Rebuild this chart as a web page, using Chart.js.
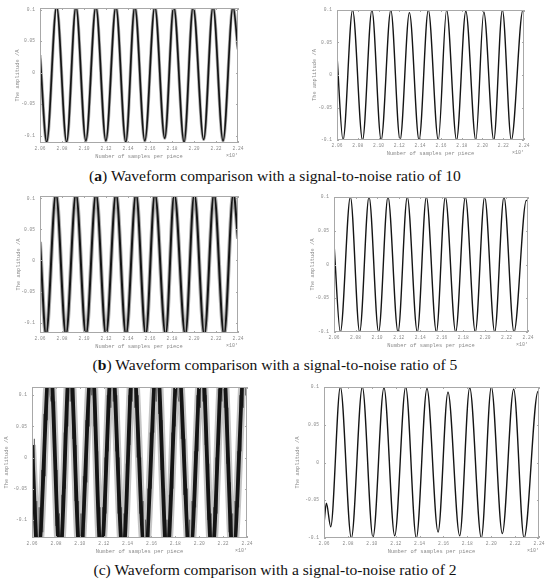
<!DOCTYPE html>
<html>
<head>
<meta charset="utf-8">
<script src="https://cdn.jsdelivr.net/npm/chart.js"></script>
<style>
  body { margin: 0; width: 550px; height: 582px; background: #fff; position: relative; overflow: hidden; }
  canvas { position: absolute; }
  .cap { position: absolute; left: 0; width: 550px; text-align: center; font-family: "Liberation Serif", serif; font-size: 15.6px; line-height: 20px; color: #111; }
</style>
</head>
<body>
<canvas id="aL"></canvas><canvas id="aR"></canvas>
<canvas id="bL"></canvas><canvas id="bR"></canvas>
<canvas id="cL"></canvas><canvas id="cR"></canvas>
<div class="cap" style="top:166px">(<b>a</b>) Waveform comparison with a signal-to-noise ratio of 10</div>
<div class="cap" style="top:355px">(<b>b</b>) Waveform comparison with a signal-to-noise ratio of 5</div>
<div class="cap" style="top:560px">(c) Waveform comparison with a signal-to-noise ratio of 2</div>
<script>
// ===== Axis ticks =====
const xTicks = [20600, 20800, 21000, 21200, 21400, 21600, 21800, 22000, 22200, 22400];
const yTicks = [-0.1, -0.05, 0, 0.05, 0.1];

// ===== SNR 10: noisy (peaks/troughs) and denoised =====
const aNoisyX = [20600, 20661, 20751, 20842, 20927, 21017, 21108, 21199, 21290, 21380, 21462, 21553, 21644, 21734, 21816, 21910, 21992, 22088, 22173, 22264, 22355, 22400];
const aNoisyY = [0.028, -0.11, 0.105, -0.11, 0.105, -0.108, 0.105, -0.108, 0.105, -0.11, 0.105, -0.108, 0.105, -0.104, 0.105, -0.11, 0.105, -0.106, 0.105, -0.108, 0.105, 0.037];
const aCleanX = [20600, 20658, 20750, 20846, 20936, 21025, 21118, 21207, 21297, 21390, 21479, 21575, 21655, 21751, 21840, 21936, 22013, 22109, 22192, 22278, 22390, 22400];
const aCleanY = [0.03, -0.1, 0.1, -0.1, 0.1, -0.1, 0.1, -0.1, 0.096, -0.1, 0.1, -0.1, 0.1, -0.1, 0.098, -0.1, 0.097, -0.1, 0.1, -0.1, 0.1, 0.0995];

// ===== SNR 5 =====
const bNoisyX = [20600, 20655, 20745, 20836, 20927, 21018, 21109, 21200, 21291, 21382, 21473, 21561, 21645, 21742, 21821, 21921, 22003, 22094, 22182, 22273, 22358, 22400];
const bNoisyY = [0.03, -0.12, 0.108, -0.12, 0.108, -0.12, 0.108, -0.12, 0.108, -0.12, 0.108, -0.12, 0.108, -0.12, 0.108, -0.12, 0.108, -0.12, 0.108, -0.12, 0.108, 0.035];
const bCleanX = [20600, 20659, 20752, 20838, 20925, 21014, 21101, 21194, 21280, 21373, 21457, 21550, 21633, 21729, 21819, 21911, 21998, 22091, 22177, 22270, 22385, 22400];
const bCleanY = [0.031, -0.1, 0.1, -0.1, 0.1, -0.1, 0.1, -0.1, 0.1, -0.1, 0.1, -0.1, 0.1, -0.1, 0.1, -0.1, 0.1, -0.1, 0.1, -0.1, 0.095, 0.094];

// ===== SNR 2 =====
const cNoisyX = [20600, 20650, 20751, 20834, 20918, 21002, 21102, 21178, 21270, 21362, 21446, 21546, 21647, 21730, 21822, 21923, 22023, 22107, 22199, 22283, 22383, 22400];
const cNoisyY = [0.02, -0.16, 0.16, -0.16, 0.16, -0.16, 0.16, -0.16, 0.16, -0.16, 0.16, -0.16, 0.16, -0.16, 0.16, -0.16, 0.16, -0.16, 0.16, -0.16, 0.16, 0.15];
// raw noisy trace, one value every 10 samples from 2.06e4
const cRawStart = 20600, cRawStep = 10;
const cRawY = [
  0.08, -0.06, 0.03, -0.16, -0.07, -0.22,
  -0.08, -0.20, -0.02, -0.12, 0.07, -0.03, 0.17, 0.06, 0.22, 0.10,
  0.09, 0.19, 0.01, 0.09, -0.11, -0.02, -0.21, -0.09,
  -0.22, -0.06, -0.16, 0.04, -0.05, 0.15, 0.05, 0.22,
  0.09, 0.21, 0.03, 0.13, -0.07, 0.02, -0.18, -0.07, -0.23,
  -0.09, -0.20, -0.03, -0.13, 0.06, -0.04, 0.16, 0.05, 0.21, 0.10,
  0.22, 0.05, 0.13, -0.07, 0.01, -0.19, -0.08,
  -0.23, -0.08, -0.18, 0.00, -0.09, 0.10, 0.01, 0.19, 0.08, 0.23,
  0.09, 0.19, 0.01, 0.10, -0.09, 0.00, -0.18, -0.08, -0.22,
  -0.09, -0.19, -0.01, -0.09, 0.10, 0.02, 0.20, 0.09,
  0.22, 0.08, 0.18, 0.00, 0.10, -0.09, 0.00, -0.18, -0.07, -0.22,
  -0.10, -0.21, -0.05, -0.14, 0.04, -0.05, 0.13, 0.04, 0.21, 0.09,
  0.22, 0.07, 0.17, -0.02, 0.06, -0.13, -0.05, -0.21, -0.10,
  -0.22, -0.06, -0.15, 0.04, -0.05, 0.14, 0.05, 0.21, 0.10,
  0.09, 0.20, 0.03, 0.13, -0.06, 0.03, -0.15, -0.05, -0.21, -0.10,
  -0.22, -0.07, -0.17, 0.01, -0.08, 0.10, 0.01, 0.19, 0.08, 0.22,
  0.09, 0.20, 0.02, 0.10, -0.10, -0.01, -0.20, -0.09,
  -0.23, -0.08, -0.18, 0.00, -0.09, 0.11, 0.02, 0.20, 0.09,
  0.22, 0.08, 0.18, -0.01, 0.08, -0.12, -0.04, -0.21, -0.09,
  -0.22, -0.07, -0.17, 0.01, -0.08, 0.10, 0.01, 0.19, 0.08, 0.22,
  0.10, 0.19
];
const cCleanX = [20600, 20620, 20656, 20737, 20829, 20921, 21010, 21102, 21192, 21284, 21373, 21462, 21555, 21638, 21736, 21820, 21917, 22001, 22093, 22188, 22275, 22392, 22400];
const cCleanY = [-0.081, -0.054, -0.085, 0.1, -0.1, 0.1, -0.099, 0.099, -0.097, 0.1, -0.1, 0.098, -0.092, 0.093, -0.097, 0.099, -0.1, 0.1, -0.094, 0.097, -0.1, 0.094, 0.093];

const TICK_FONT = { family: '"Liberation Mono", monospace', size: 4.6 };
const TITLE_FONT = { family: '"Liberation Mono", monospace', size: 5.4 };
const GREY = '#8a8a8a';

function pts(xs, ys) {
  return xs.map((x, i) => ({ x: x, y: ys[i] }));
}

function line(xs, ys, color, width, smooth) {
  return {
    data: pts(xs, ys),
    borderColor: color,
    borderWidth: width,
    pointRadius: 0,
    fill: false,
    cubicInterpolationMode: smooth === false ? 'default' : 'monotone',
    tension: 0,
    clip: 0
  };
}

// box frame, inward tick marks and the x10^4 exponent
const framePlugin = {
  id: 'frame',
  afterDraw(chart) {
    const { ctx, chartArea: a, scales } = chart;
    ctx.save();
    ctx.strokeStyle = '#a8a8a8';
    ctx.lineWidth = 1;
    ctx.strokeRect(a.left + 0.5, a.top + 0.5, a.width - 1, a.height - 1);
    ctx.beginPath();
    scales.x.ticks.forEach(t => {
      const px = Math.round(scales.x.getPixelForValue(t.value)) + 0.5;
      ctx.moveTo(px, a.bottom); ctx.lineTo(px, a.bottom - 2);
      ctx.moveTo(px, a.top); ctx.lineTo(px, a.top + 2);
    });
    scales.y.ticks.forEach(t => {
      const py = Math.round(scales.y.getPixelForValue(t.value)) + 0.5;
      ctx.moveTo(a.left, py); ctx.lineTo(a.left + 2, py);
      ctx.moveTo(a.right, py); ctx.lineTo(a.right - 2, py);
    });
    ctx.stroke();
    ctx.fillStyle = GREY;
    ctx.font = '5px "Liberation Mono", "DejaVu Sans Mono", monospace';
    ctx.textAlign = 'right';
    ctx.textBaseline = 'middle';
    ctx.fillText('\u00d710\u2074', a.right, a.bottom + 13);
    ctx.restore();
  }
};

function makePanel(id, box, datasets) {
  const W = 30, PT = 6, PR = 12, XH = 18, PB = 2;
  const cv = document.getElementById(id);
  const w = box.R - box.L + W + PR;
  const h = box.B - box.T + PT + XH + PB;
  cv.width = w; cv.height = h;
  cv.style.left = (box.L - W) + 'px';
  cv.style.top = (box.T - PT) + 'px';
  cv.style.width = w + 'px';
  cv.style.height = h + 'px';
  const lh = TITLE_FONT.size * 1.2;
  return new Chart(cv, {
    type: 'line',
    data: { datasets: datasets },
    options: {
      responsive: false,
      animation: false,
      layout: { padding: { left: 0, top: PT, right: PR, bottom: PB } },
      plugins: { legend: { display: false }, tooltip: { enabled: false } },
      scales: {
        x: {
          type: 'linear',
          min: 20600, max: 22400,
          afterBuildTicks: s => { s.ticks = xTicks.map(v => ({ value: v })); },
          afterFit: s => { s.height = XH; s.paddingLeft = 0; s.paddingRight = 0; },
          ticks: { callback: v => (v / 1e4).toFixed(2), font: TICK_FONT, color: GREY, padding: 3.5, maxRotation: 0, autoSkip: false },
          grid: { display: false, drawTicks: false },
          border: { display: false },
          title: { display: true, text: 'Number of samples per piece', font: TITLE_FONT, color: GREY, padding: { top: 0, bottom: 1.5 } }
        },
        y: {
          type: 'linear',
          min: box.ymin, max: box.ymax,
          afterBuildTicks: s => { s.ticks = yTicks.map(v => ({ value: v })); },
          afterFit: s => { s.width = W; s.paddingTop = 0; s.paddingBottom = 0; },
          ticks: { callback: v => String(Math.round(v * 100) / 100), font: TICK_FONT, color: GREY, padding: 5, autoSkip: false },
          grid: { display: false, drawTicks: false },
          border: { display: false },
          title: { display: true, text: 'The amplitude /A', font: TITLE_FONT, color: GREY, padding: { top: W - box.gap - lh / 2, bottom: 0 } }
        }
      }
    },
    plugins: [framePlugin]
  });
}

const cRawX = cRawY.map((_, i) => cRawStart + i * cRawStep);

makePanel('aL', { L: 40, T: 8, R: 238, B: 143, ymin: -0.1116, ymax: 0.1026, gap: 22 }, [
  line(aNoisyX, aNoisyY, '#151515', 1.7),
  line(aNoisyX, aNoisyY, 'rgba(70,70,70,0.45)', 3.2)
]);
makePanel('aR', { L: 337, T: 10, R: 524, B: 140, ymin: -0.1, ymax: 0.1, gap: 22 }, [
  line(aCleanX, aCleanY, '#151515', 1.4)
]);
makePanel('bL', { L: 40, T: 196, R: 238, B: 333, ymin: -0.1167, ymax: 0.1038, gap: 21 }, [
  line(bNoisyX, bNoisyY, '#151515', 2),
  line(bNoisyX, bNoisyY, 'rgba(70,70,70,0.45)', 4)
]);
makePanel('bR', { L: 334, T: 197, R: 528, B: 332, ymin: -0.1, ymax: 0.1, gap: 21 }, [
  line(bCleanX, bCleanY, '#151515', 1.4)
]);
makePanel('cL', { L: 32, T: 387, R: 247, B: 538, ymin: -0.1293, ymax: 0.1133, gap: 25 }, [
  line(cNoisyX, cNoisyY, '#151515', 3.8),
  line(cRawX, cRawY, 'rgba(95,95,95,0.9)', 0.9, false),
  line(cNoisyX, cNoisyY, 'rgba(90,90,90,0.35)', 8)
]);
makePanel('cR', { L: 324, T: 387, R: 539, B: 538, ymin: -0.1, ymax: 0.1, gap: 26 }, [
  line(cCleanX, cCleanY, '#151515', 1.4)
]);
</script>
</body>
</html>
